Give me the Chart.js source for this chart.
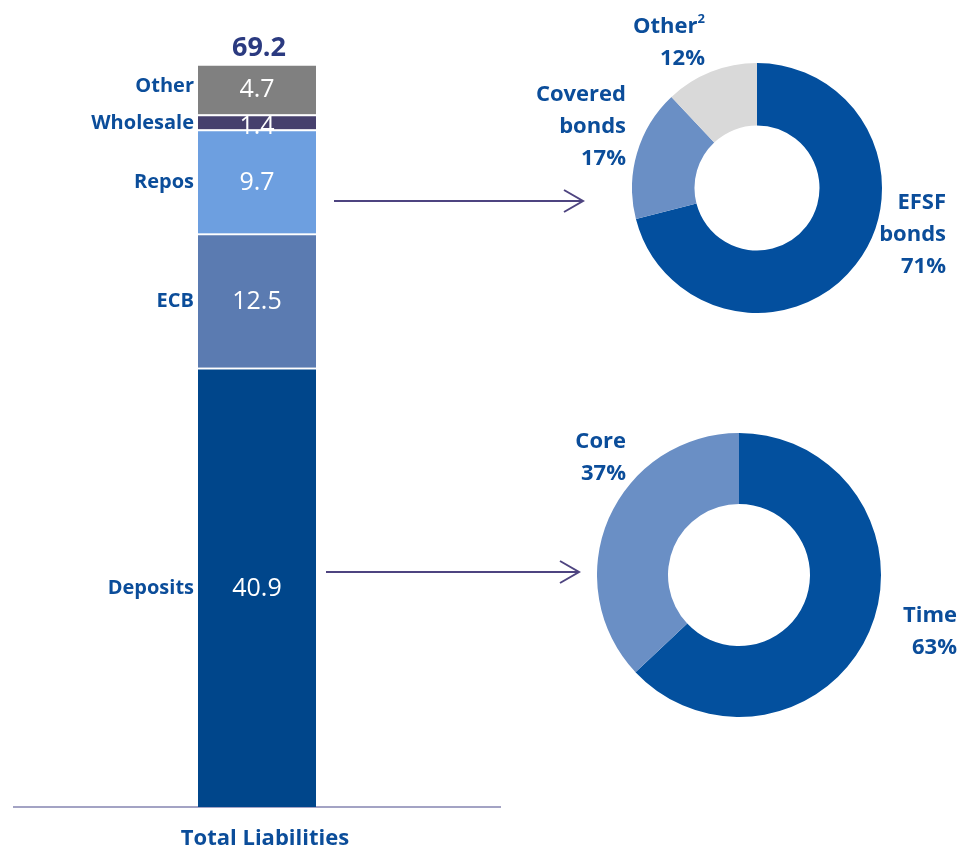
<!DOCTYPE html>
<html><head><meta charset="utf-8">
<script src="https://cdn.jsdelivr.net/npm/chart.js@4.4.1/dist/chart.umd.min.js"></script>
<style>
html,body{margin:0;padding:0;background:#fff;width:962px;height:850px;overflow:hidden;font-family:"Open Sans",Lato,sans-serif;}
#wrap{position:relative;width:962px;height:850px;}
canvas{position:absolute;}
.lbl{position:absolute;color:#0b4d9a;font-weight:bold;font-size:22px;line-height:32px;white-space:nowrap;}
.r{text-align:right;}
.c{text-align:center;}
sup{font-size:13px;vertical-align:10px;line-height:0;}
svg{position:absolute;left:0;top:0;}
</style></head>
<body><div id="wrap">
<canvas id="bar" style="left:0;top:0" width="520" height="850"></canvas>
<canvas id="d1" style="left:632px;top:63px" width="250" height="250"></canvas>
<canvas id="d2" style="left:597px;top:433px" width="284" height="284"></canvas>
<svg width="962" height="850">
  <g stroke="#4e4480" stroke-width="2" fill="none">
    <line x1="334" y1="201" x2="582" y2="201"/>
    <polyline points="564,190 583,201 564,212"/>
    <line x1="326" y1="572" x2="578" y2="572"/>
    <polyline points="560,561 579,572 560,583"/>
  </g>
</svg>
<div class="lbl r" style="left:595px;top:8px;width:110px;">Other<sup>2</sup><br>12%</div>
<div class="lbl r" style="left:480px;top:76px;width:146px;">Covered<br>bonds<br>17%</div>
<div class="lbl r" style="left:836px;top:184px;width:110px;">EFSF<br>bonds<br>71%</div>
<div class="lbl r" style="left:516px;top:423px;width:110px;">Core<br>37%</div>
<div class="lbl r" style="left:847px;top:597px;width:110px;">Time<br>63%</div>
</div>
<script>
// ---- data ----
const barCategory = ['Total Liabilities'];
const segmentNames = ['Deposits', 'ECB', 'Repos', 'Wholesale', 'Other'];
const segmentValues = [40.9, 12.5, 9.7, 1.4, 4.7];
const totalValue = 69.2;
const segmentColors = ['#00468b', '#5b7bb1', '#6d9fe0', '#46406d', '#808080'];

const reposNames = ['EFSF bonds', 'Covered bonds', 'Other'];
const reposShares = [71, 17, 12];
const reposColors = ['#034f9e', '#6a8fc5', '#d9d9d9'];

const depositNames = ['Time', 'Core'];
const depositShares = [63, 37];
const depositColors = ['#03509e', '#6a8fc5'];

const labelBlue = '#0b4d9a';
const fontFam = '"Open Sans", Lato, sans-serif';

const barLabels = {
  id: 'barLabels',
  afterDatasetsDraw(chart) {
    const ctx = chart.ctx;
    ctx.save();
    let topY = Infinity, cx = 0;
    chart.data.datasets.forEach((ds, i) => {
      const el = chart.getDatasetMeta(i).data[0];
      const yc = (el.y + el.base) / 2;
      const left = el.x - el.width / 2;
      cx = el.x;
      topY = Math.min(topY, el.y);
      ctx.font = 'bold 20px ' + fontFam;
      ctx.fillStyle = labelBlue;
      ctx.textAlign = 'right';
      ctx.textBaseline = 'middle';
      ctx.fillText(ds.label, left - 4, yc + (i === 4 ? -3 : 1));
      ctx.font = '25px ' + fontFam;
      ctx.fillStyle = '#ffffff';
      ctx.textAlign = 'center';
      ctx.fillText(String(ds.data[0]), el.x, yc + (ds.data[0] < 2 ? 5 : 1));
    });
    ctx.font = 'bold 27px ' + fontFam;
    ctx.fillStyle = '#2b3a80';
    ctx.textAlign = 'center';
    ctx.textBaseline = 'bottom';
    ctx.fillText(totalValue.toFixed(1), cx + 2, topY - 2);
    ctx.restore();
  }
};

new Chart(document.getElementById('bar'), {
  type: 'bar',
  data: {
    labels: barCategory,
    datasets: segmentNames.map((n, i) => ({
      label: n,
      data: [segmentValues[i]],
      backgroundColor: segmentColors[i],
      borderColor: '#ffffff',
      borderWidth: {top: 2, bottom: 0, left: 0, right: 0},
      borderSkipped: false,
      barThickness: 118
    }))
  },
  options: {
    responsive: false,
    animation: false,
    layout: {padding: {left: 14, right: 20, top: 64, bottom: 0}},
    plugins: {legend: {display: false}, tooltip: {enabled: false}},
    scales: {
      x: {
        stacked: true,
        grid: {display: false, drawTicks: false},
        border: {display: true, color: '#a3a3c4', width: 2},
        ticks: {color: labelBlue, font: {family: fontFam, size: 22, weight: 'bold'}, padding: 19, labelOffset: 8},
        afterFit(scale) { scale.height = 43; }
      },
      y: {stacked: true, display: false, min: 0, max: totalValue}
    }
  },
  plugins: [barLabels]
});

function donut(id, names, vals, cols) {
  new Chart(document.getElementById(id), {
    type: 'doughnut',
    data: {labels: names, datasets: [{data: vals, backgroundColor: cols, borderWidth: 0}]},
    options: {
      responsive: false, animation: false, cutout: '50%',
      layout: {padding: 0},
      plugins: {legend: {display: false}, tooltip: {enabled: false}}
    }
  });
}
donut('d1', reposNames, reposShares, reposColors);
donut('d2', depositNames, depositShares, depositColors);
</script>
</body></html>
